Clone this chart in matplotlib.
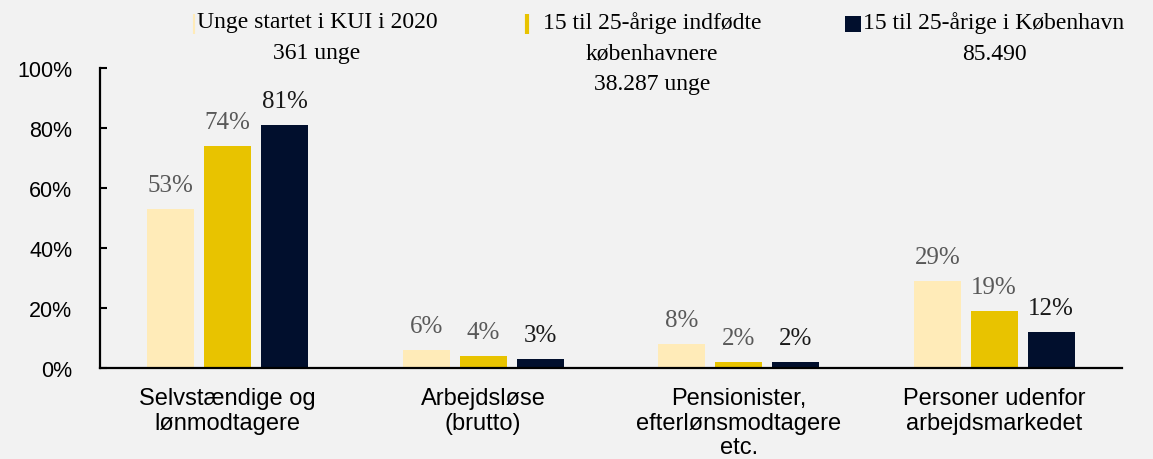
import numpy as np
import matplotlib
matplotlib.use("Agg")
from matplotlib import pyplot as plt
from matplotlib.lines import Line2D
from matplotlib.ticker import PercentFormatter

# --- data -----------------------------------------------------------------
categories = [
    "Selvstændige og\nlønmodtagere",
    "Arbejdsløse\n(brutto)",
    "Pensionister,\nefterlønsmodtagere\netc.",
    "Personer udenfor\narbejdsmarkedet",
]
series_labels = [
    "Unge startet i KUI i 2020\n361 unge",
    "15 til 25-årige indfødte\nkøbenhavnere\n38.287 unge",
    "15 til 25-årige i København\n85.490",
]
kui_2020 = [53, 6, 8, 29]
indfodte_kbh = [74, 4, 2, 19]
alle_kbh = [81, 3, 2, 12]
y_ticks = [0, 20, 40, 60, 80, 100]

# --- style ----------------------------------------------------------------
BG = "#F2F2F2"
colors = ["#FFEBB8", "#E8C300", "#010F2D"]
label_colors = ["#595959", "#595959", "#1A1A1A"]
SANS = "Liberation Sans"
SERIF = "Liberation Serif"

fig = plt.figure(figsize=(11.53, 4.60), dpi=100, facecolor=BG)
ax = fig.add_axes([0.0867, 0.198, 0.8864, 0.652], facecolor=BG)

x = np.arange(len(categories))
width = 0.184
step = 0.223

for i, (vals, col, lcol) in enumerate(
    zip([kui_2020, indfodte_kbh, alle_kbh], colors, label_colors)
):
    bars = ax.bar(x + (i - 1) * step, vals, width=width, color=col, zorder=2)
    ax.bar_label(
        bars,
        labels=[f"{v}%" for v in vals],
        padding=9,
        color=lcol,
        fontsize=18,
        family=SERIF,
    )

ax.set_xlim(-0.5, len(categories) - 0.5)
ax.set_ylim(0, 100)
ax.set_yticks(y_ticks)
ax.yaxis.set_major_formatter(PercentFormatter(decimals=0))
ax.set_xticks(x)
ax.set_xticklabels(categories, family=SANS, fontsize=17, linespacing=1.15)
ax.tick_params(axis="x", length=0, pad=14)
ax.tick_params(axis="y", direction="in", length=5, width=1.5, pad=20,
               labelsize=15.5)
for lbl in ax.get_yticklabels():
    lbl.set_family(SANS)

for side in ("top", "right"):
    ax.spines[side].set_visible(False)
for side in ("left", "bottom"):
    ax.spines[side].set_linewidth(1.6)

# --- legend (top aligned, drawn by hand like the Excel original) -----------
legend_cx = [317, 652, 994]  # centre of each text block, px
legend_handles = [
    dict(marker="|", markersize=14, markeredgewidth=1.5),
    dict(marker="|", markersize=14, markeredgewidth=3),
    dict(marker="s", markersize=11, markeredgewidth=0),
]
handle_gap = [3, 16, 10]
W, H = fig.bbox.width, fig.bbox.height
renderer = fig.canvas.get_renderer()
for cx, text, col, hkw, gap in zip(legend_cx, series_labels, colors,
                                   legend_handles, handle_gap):
    t = fig.text(cx / W, 1 - 12 / H, text, ha="center", va="top",
                 multialignment="center", family=SERIF, fontsize=17,
                 linespacing=1.6)
    left = t.get_window_extent(renderer).x0
    fig.add_artist(Line2D([(left - gap) / W], [1 - 25 / H], color=col,
                          markerfacecolor=col, markeredgecolor=col,
                          linestyle="none", transform=fig.transFigure, **hkw))

fig.savefig("out.png", dpi=100, facecolor=BG)
